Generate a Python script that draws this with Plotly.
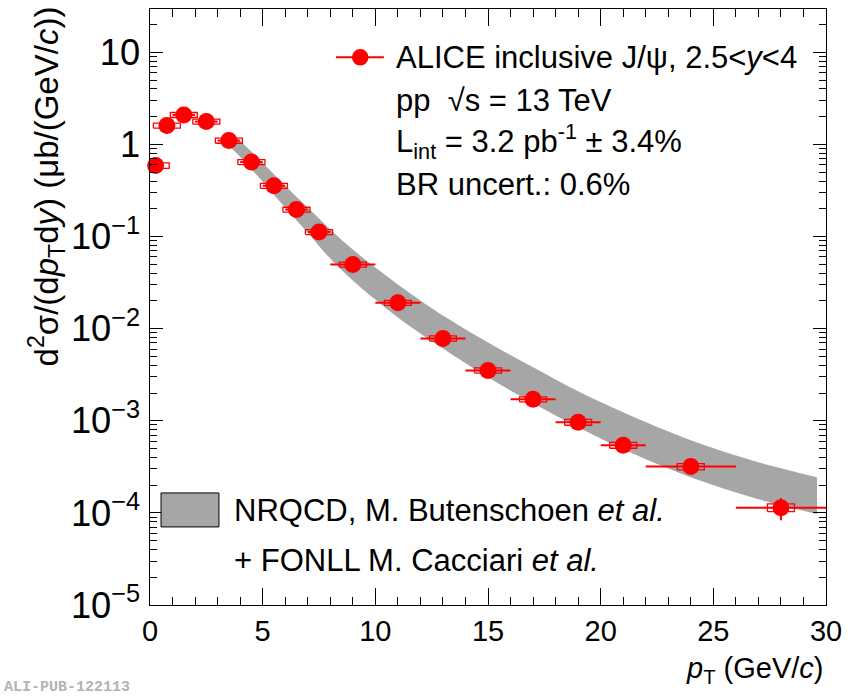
import plotly.graph_objects as go

# ---- ALICE inclusive J/psi cross section, pp at 13 TeV, 2.5<y<4 ----
pt = [0.25, 0.75, 1.5, 2.5, 3.5, 4.5, 5.5, 6.5, 7.5, 9, 11, 13, 15, 17, 19, 21, 24, 28]
pt_lo = [0, 0.5, 1, 2, 3, 4, 5, 6, 7, 8, 10, 12, 14, 16, 18, 20, 22, 26]
pt_hi = [0.5, 1, 2, 3, 4, 5, 6, 7, 8, 10, 12, 14, 16, 18, 20, 22, 26, 30]
sigma = [0.59, 1.60, 2.09, 1.77, 1.10, 0.643, 0.356, 0.196, 0.112, 0.0497,
         0.0191, 0.00783, 0.00352, 0.00171, 0.000964, 0.000543, 0.000318, 0.000114]
stat = [0.01, 0.02, 0.02, 0.02, 0.012, 0.007, 0.004, 0.0025, 0.0016, 0.0008,
        0.0004, 0.0002, 0.0001, 0.00006, 0.00004, 0.00003, 0.00002, 0.000031]
syst = [0.04, 0.10, 0.13, 0.11, 0.07, 0.04, 0.022, 0.012, 0.007, 0.0031,
        0.0012, 0.0005, 0.00023, 0.00011, 0.00007, 0.00004, 0.000025, 0.000011]

# ---- NRQCD (Butenschoen et al.) + FONLL (Cacciari et al.) band ----
band_pt = [3.5, 4, 5, 6, 7, 8, 9, 10, 11, 12, 13, 15, 17, 19, 21, 24, 27, 29.6]
band_hi = [1.37, 1.09, 0.632, 0.356, 0.206, 0.119, 0.0721, 0.0460, 0.0301, 0.0202,
           0.0139, 0.00709, 0.0038, 0.00209, 0.001237, 0.000615, 0.000355, 0.000244]
band_lo = [0.966, 0.734, 0.393, 0.2056, 0.1102, 0.0576, 0.0333, 0.0207, 0.01322, 0.00887,
           0.0061, 0.00296, 0.00155, 0.000851, 0.000491, 0.000244, 0.000141, 0.000097]

RED = "#ff0000"
BAND = "#a6a6a6"
FONT = "Liberation Sans"
TEXT_SIZE = 31
TICK_SIZE = 29
BOX_HALF = 0.6  # half width of the systematic boxes in GeV/c

fig = go.Figure()

# theory band
fig.add_trace(go.Scatter(x=band_pt, y=band_lo, mode="lines", line=dict(width=0, shape="spline"),
                         hoverinfo="skip", showlegend=False))
fig.add_trace(go.Scatter(x=band_pt, y=band_hi, mode="lines", line=dict(width=0, shape="spline"),
                         fill="tonexty", fillcolor=BAND, hoverinfo="skip", showlegend=False))

# systematic uncertainty boxes
bx, by = [], []
for x, y, s in zip(pt, sigma, syst):
    x0, x1 = x - BOX_HALF, x + BOX_HALF
    y0, y1 = y - s, y + s
    bx += [x0, x1, x1, x0, x0, None]
    by += [y0, y0, y1, y1, y0, None]
fig.add_trace(go.Scatter(x=bx, y=by, mode="lines", line=dict(color=RED, width=1.3),
                         hoverinfo="skip", showlegend=False))

# data points with bin widths and statistical errors
fig.add_trace(go.Scatter(
    x=pt, y=sigma, mode="markers",
    marker=dict(symbol="circle", size=17, color=RED),
    error_x=dict(type="data", symmetric=False,
                 array=[h - x for h, x in zip(pt_hi, pt)],
                 arrayminus=[x - l for x, l in zip(pt, pt_lo)],
                 color=RED, thickness=2, width=0),
    error_y=dict(type="data", array=stat, color=RED, thickness=2, width=0),
    cliponaxis=False, showlegend=False))

axis_common = dict(showline=True, linecolor="black", linewidth=1, mirror="allticks",
                   ticks="inside", tickcolor="black", tickwidth=1, showgrid=False,
                   zeroline=False, tickfont=dict(family=FONT, size=TICK_SIZE, color="black"))

fig.update_xaxes(range=[0, 30], tickmode="linear", tick0=0, dtick=5, ticklen=17,
                 minor=dict(dtick=1, ticks="inside", ticklen=8, tickcolor="black", showgrid=False),
                 **axis_common)
fig.update_yaxes(type="log", range=[-5, 1.47], tickmode="linear", tick0=0, dtick=1,
                 exponentformat="power", ticklen=13, ticklabelstandoff=3,
                 minor=dict(dtick="D1", ticks="inside", ticklen=7, tickcolor="black", showgrid=False),
                 **axis_common)

ann = []
# axis titles
ann.append(dict(xref="paper", yref="paper", x=-0.153, y=1.007, xanchor="center", yanchor="top",
                textangle=-90, showarrow=False,
                text="d<sup>2</sup>σ/(d<i>p</i><sub>T</sub>d<i>y</i>) (μb/(GeV/<i>c</i>))",
                font=dict(family=FONT, size=33, color="black")))
ann.append(dict(xref="paper", yref="paper", x=1.0, y=-0.109, xanchor="right", yanchor="middle",
                showarrow=False, text="<i>p</i><sub>T</sub> (GeV/<i>c</i>)",
                font=dict(family=FONT, size=29, color="black")))

# legend / info text
info = ["ALICE inclusive J/ψ, 2.5&lt;<i>y</i>&lt;4",
        "pp  √s = 13 TeV",
        "L<sub>int</sub> = 3.2 pb<sup>-1</sup> ± 3.4%",
        "BR uncert.: 0.6%"]
info_y = [0.919, 0.847, 0.777, 0.706]
for t, yy in zip(info, info_y):
    ann.append(dict(xref="paper", yref="paper", x=0.361, y=yy, xanchor="left", yanchor="middle",
                    showarrow=False, text=t, font=dict(family=FONT, size=TEXT_SIZE, color="black")))

ann.append(dict(xref="paper", yref="paper", x=0.121, y=0.159, xanchor="left", yanchor="middle",
                showarrow=False, text="NRQCD, M. Butenschoen <i>et al.</i>",
                font=dict(family=FONT, size=TEXT_SIZE, color="black")))
ann.append(dict(xref="paper", yref="paper", x=0.121, y=0.0755, xanchor="left", yanchor="middle",
                showarrow=False, text="+ FONLL M. Cacciari <i>et al.</i>",
                font=dict(family=FONT, size=TEXT_SIZE, color="black")))

ann.append(dict(xref="paper", yref="paper", x=-0.219, y=-0.139, xanchor="left", yanchor="middle",
                showarrow=False, text="<b>ALI-PUB-122113</b>",
                font=dict(family="Liberation Mono", size=15, color="#b4b4b4")))

shapes = [
    # legend glyph for the data
    dict(type="line", xref="paper", yref="paper", x0=0.275, x1=0.346, y0=0.919, y1=0.919,
         line=dict(color=RED, width=2)),
    dict(type="circle", xref="paper", yref="paper", x0=0.311 - 0.0123, x1=0.311 + 0.0123,
         y0=0.919 - 0.014, y1=0.919 + 0.014, fillcolor=RED, line=dict(color=RED, width=0)),
    # legend glyph for the band
    dict(type="rect", xref="paper", yref="paper", x0=0.0163, x1=0.102, y0=0.131, y1=0.188,
         fillcolor=BAND, line=dict(color="black", width=1)),
]

fig.update_layout(width=865, height=698, margin=dict(l=150, r=39, t=9, b=93),
                  plot_bgcolor="white", paper_bgcolor="white", showlegend=False,
                  font=dict(family=FONT, size=TEXT_SIZE, color="black"),
                  annotations=ann, shapes=shapes)

fig.write_html("out.html")
